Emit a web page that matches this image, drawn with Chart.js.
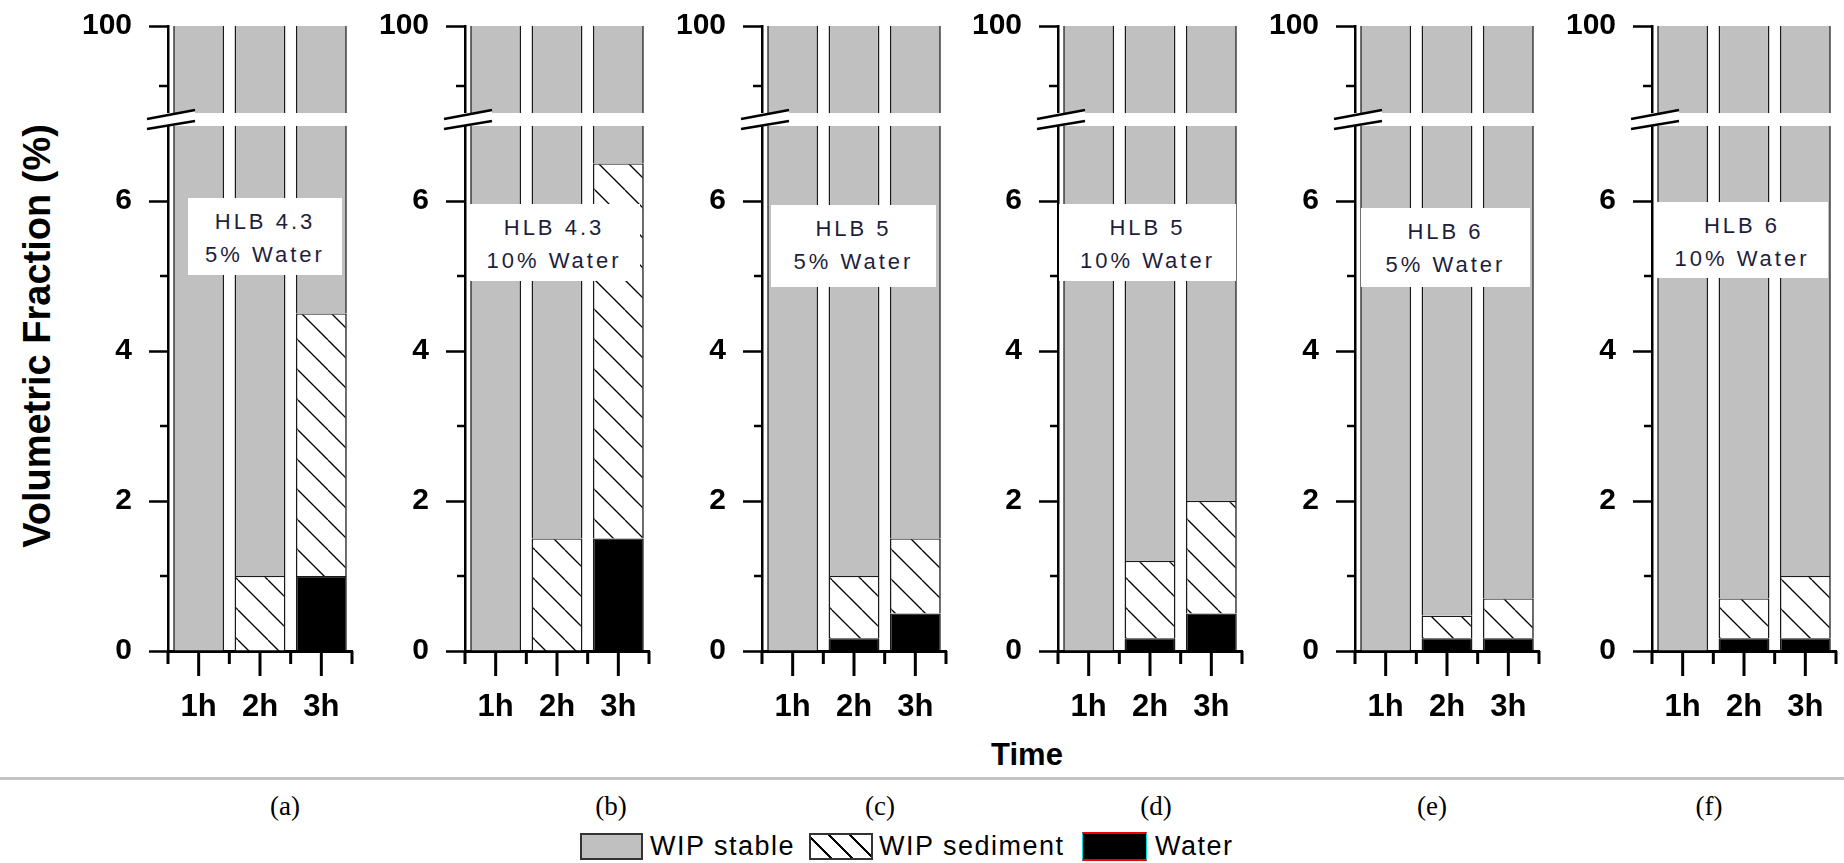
<!DOCTYPE html>
<html><head><meta charset="utf-8">
<script src="https://cdn.jsdelivr.net/npm/chart.js@4.4.1/dist/chart.umd.min.js"></script>
<style>
html,body{margin:0;padding:0;background:#fff;}
body{width:1844px;height:863px;overflow:hidden;position:relative;font-family:"Liberation Sans",Arial,sans-serif;}
canvas{position:absolute;}
.box{position:absolute;background:#fff;color:#1e1e3c;font-size:22px;letter-spacing:3px;text-align:center;z-index:5;box-sizing:border-box;padding-top:7px;line-height:33px;}
.ytitle{position:absolute;left:37px;top:336px;transform:translate(-50%,-50%) rotate(-90deg);font-weight:bold;font-size:38px;white-space:nowrap;color:#000;}
.xtitle{position:absolute;left:1027px;top:755px;transform:translate(-50%,-50%);font-weight:bold;font-size:31px;color:#000;}
.hline{position:absolute;left:0;top:777px;width:1844px;height:3px;background:#c4c4c4;}
.cap{position:absolute;top:806px;transform:translate(-50%,-50%);font-family:"Liberation Serif","Times New Roman",serif;font-size:27px;color:#000;}
.lg{position:absolute;box-sizing:border-box;}
.lgt{position:absolute;top:846px;transform:translateY(-50%);font-size:27px;letter-spacing:1.5px;color:#000;white-space:nowrap;}
</style></head><body>
<div class="hline"></div>
<div class="ytitle">Volumetric Fraction (%)</div>
<div class="xtitle">Time</div>
<script>
// ---------- data ----------
const timeLabels = ['1h', '2h', '3h'];
const panelHLB = ['HLB 4.3', 'HLB 4.3', 'HLB 5', 'HLB 5', 'HLB 6', 'HLB 6'];
const panelWaterPct = ['5% Water', '10% Water', '5% Water', '10% Water', '5% Water', '10% Water'];
const captions = ['(a)', '(b)', '(c)', '(d)', '(e)', '(f)'];
const legendLabels = ['WIP stable', 'WIP sediment', 'Water'];

// free water layer (%) per panel
const waterA = [0, 0, 1.0];
const waterB = [0, 0, 1.5];
const waterC = [0, 0.17, 0.5];
const waterD = [0, 0.17, 0.5];
const waterE = [0, 0.17, 0.17];
const waterF = [0, 0.17, 0.17];
// WIP sediment layer (%) per panel
const sedimentA = [0, 1.0, 3.5];
const sedimentB = [0, 1.5, 5.0];
const sedimentC = [0, 0.83, 1.0];
const sedimentD = [0, 1.03, 1.5];
const sedimentE = [0, 0.3, 0.53];
const sedimentF = [0, 0.53, 0.83];

const lowerTickLabels = [0, 2, 4, 6];
const lowerMinorTicks = [1, 3, 5];
const upperTickLabels = [100];
const upperMinorTicks = [99];

const waterSets = [waterA, waterB, waterC, waterD, waterE, waterF];
const sedimentSets = [sedimentA, sedimentB, sedimentC, sedimentD, sedimentE, sedimentF];

// ---------- layout (not data) ----------
const AX0 = 168, AXSTEP = 296.8, YW = 110, PLOTW = 184, RPAD = 6;
const boxes = [
  [188, 198, 154, 77], [468, 204, 172, 77], [771, 205, 165, 82],
  [1059, 204, 177, 77], [1361, 208, 169, 79], [1656, 202, 172, 76]
];
const capX = [285, 611, 880, 1156, 1432, 1709];

// hatch pattern
function makeHatch() {
  const c = document.createElement('canvas');
  c.width = 30; c.height = 30;
  const g = c.getContext('2d');
  g.fillStyle = '#fff'; g.fillRect(0, 0, 30, 30);
  g.strokeStyle = '#000'; g.lineWidth = 1.3;
  for (const x0 of [-30, 0, 30]) {
    g.beginPath(); g.moveTo(x0, 0); g.lineTo(x0 + 30, 30); g.stroke();
  }
  return c;
}
const hatchCanvas = makeHatch();

const FONT = '"Liberation Sans", Arial, sans-serif';
const STABLE = '#c0c0c0', EDGE = '#1a1a1a';

function makeDatasets(ctx2d, w, s) {
  const stable = w.map((v, i) => 100 - v - s[i]);
  const pat = ctx2d.createPattern(hatchCanvas, 'repeat');
  const side = {left: 1.6, right: 1.6, top: 1.2, bottom: 0};
  return [
    {label: legendLabels[2], data: w, backgroundColor: '#000', borderColor: EDGE, borderWidth: side},
    {label: legendLabels[1], data: s, backgroundColor: pat, borderColor: EDGE, borderWidth: side},
    {label: legendLabels[0], data: stable, backgroundColor: STABLE, borderColor: EDGE, borderWidth: {left: 1.6, right: 1.6, top: 0, bottom: 0}}
  ];
}

function line(ctx, x1, y1, x2, y2) { ctx.beginPath(); ctx.moveTo(x1, y1); ctx.lineTo(x2, y2); ctx.stroke(); }

const lowerDecor = {
  id: 'lowerDecor',
  afterDraw(chart) {
    const {ctx, chartArea: a, scales: {x, y}} = chart;
    ctx.save();
    ctx.strokeStyle = '#000'; ctx.lineCap = 'butt';
    const half = (x.getPixelForValue(1) - x.getPixelForValue(0)) / 2;
    ctx.lineWidth = 3;
    for (let i = 0; i < timeLabels.length; i++) {
      const c = x.getPixelForValue(i);
      line(ctx, c, a.bottom, c, a.bottom + 25);
      line(ctx, c - half, a.bottom, c - half, a.bottom + 13);
    }
    const last = x.getPixelForValue(timeLabels.length - 1) + half;
    line(ctx, last, a.bottom, last, a.bottom + 13);
    ctx.lineWidth = 2.5;
    for (const v of lowerMinorTicks) { const py = y.getPixelForValue(v); line(ctx, a.left - 8, py, a.left, py); }
    // axis break
    const ax = a.left, t = a.top;
    ctx.fillStyle = '#fff';
    ctx.beginPath();
    ctx.moveTo(ax - 21, t - 7); ctx.lineTo(ax + 27, t - 16); ctx.lineTo(ax + 27, t - 5); ctx.lineTo(ax - 21, t + 3);
    ctx.closePath(); ctx.fill();
    ctx.lineWidth = 2.5;
    line(ctx, ax - 21, t - 7, ax + 27, t - 16);
    line(ctx, ax - 21, t + 3, ax + 27, t - 5);
    ctx.restore();
  }
};
const upperDecor = {
  id: 'upperDecor',
  afterDraw(chart) {
    const {ctx, chartArea: a, scales: {y}} = chart;
    ctx.save(); ctx.strokeStyle = '#000'; ctx.lineWidth = 2.5;
    for (const v of upperMinorTicks) { const py = y.getPixelForValue(v); line(ctx, a.left - 9, py, a.left, py); }
    ctx.restore();
  }
};

function yScale(min, max, labels) {
  return {
    type: 'linear', min: min, max: max, stacked: true, position: 'left',
    afterBuildTicks: s => { s.ticks = labels.map(v => ({value: v})); },
    afterFit: s => { s.width = YW; s.paddingTop = 0; s.paddingBottom = 0; },
    ticks: {color: '#000', font: {family: FONT, size: 30, weight: 'bold'}, padding: 17, callback: v => String(v)},
    grid: {display: true, drawOnChartArea: false, drawTicks: true, tickLength: 19, tickWidth: 2.5, tickColor: '#000'},
    border: {display: true, color: '#000', width: 2.5}
  };
}

for (let p = 0; p < 6; p++) {
  const axX = AX0 + AXSTEP * p;
  const W = YW + PLOTW + RPAD;
  const cu = document.createElement('canvas');
  cu.width = W; cu.height = 113;
  cu.style.left = (axX - YW) + 'px'; cu.style.top = '0px';
  document.body.appendChild(cu);
  const cl = document.createElement('canvas');
  cl.width = W; cl.height = 631;
  cl.style.left = (axX - YW) + 'px'; cl.style.top = '100px';
  document.body.appendChild(cl);

  const common = {
    responsive: false, animation: false, devicePixelRatio: 1,
    plugins: {legend: {display: false}, tooltip: {enabled: false}},
    datasets: {bar: {barPercentage: 0.83, categoryPercentage: 1.0, borderSkipped: 'start', inflateAmount: 0}}
  };

  new Chart(cu.getContext('2d'), {
    type: 'bar',
    data: {labels: timeLabels, datasets: makeDatasets(cu.getContext('2d'), waterSets[p], sedimentSets[p])},
    options: Object.assign({}, common, {
      layout: {padding: {top: 26, right: RPAD, bottom: 0, left: 0}},
      scales: {
        x: {type: 'category', stacked: true, offset: true, display: false},
        y: yScale(98.55, 100, upperTickLabels)
      }
    }),
    plugins: [upperDecor]
  });

  new Chart(cl.getContext('2d'), {
    type: 'bar',
    data: {labels: timeLabels, datasets: makeDatasets(cl.getContext('2d'), waterSets[p], sedimentSets[p])},
    options: Object.assign({}, common, {
      layout: {padding: {top: 26, right: RPAD, bottom: 0, left: 0}},
      scales: {
        x: {
          type: 'category', stacked: true, offset: true, position: 'bottom',
          afterFit: s => { s.height = 80; s.paddingLeft = 0; s.paddingRight = 0; },
          grid: {display: false},
          border: {display: true, color: '#000', width: 3},
          ticks: {color: '#000', font: {family: FONT, size: 31, weight: 'bold'}, padding: 30, maxRotation: 0}
        },
        y: yScale(0, 7, lowerTickLabels)
      }
    }),
    plugins: [lowerDecor]
  });

  const b = boxes[p];
  const d = document.createElement('div');
  d.className = 'box';
  d.style.left = b[0] + 'px'; d.style.top = b[1] + 'px';
  d.style.width = b[2] + 'px'; d.style.height = b[3] + 'px';
  d.innerHTML = panelHLB[p] + '<br>' + panelWaterPct[p];
  document.body.appendChild(d);

  const c = document.createElement('div');
  c.className = 'cap'; c.style.left = capX[p] + 'px';
  c.textContent = captions[p];
  document.body.appendChild(c);
}

function addDiv(cls, css, text) {
  const d = document.createElement('div');
  d.className = cls; d.style.cssText = css;
  if (text) d.textContent = text;
  document.body.appendChild(d);
}
addDiv('lg', 'left:580px;top:833px;width:63px;height:27px;background:#c0c0c0;border:2px solid #333;');
addDiv('lgt', 'left:650px;', legendLabels[0]);
addDiv('lg', 'left:809px;top:833px;width:64px;height:27px;border:2px solid #333;background:#fff repeating-linear-gradient(45deg,#fff 0px,#fff 13px,#000 13px,#000 15px);');
addDiv('lgt', 'left:879px;', legendLabels[1]);
addDiv('lg', 'left:1082px;top:832px;width:65px;height:29px;background:#000;border-top:2px solid #e00;border-bottom:2px solid #e00;border-left:1px solid #0dd;border-right:1px solid #0dd;');
addDiv('lgt', 'left:1155px;', legendLabels[2]);
</script>
</body></html>
